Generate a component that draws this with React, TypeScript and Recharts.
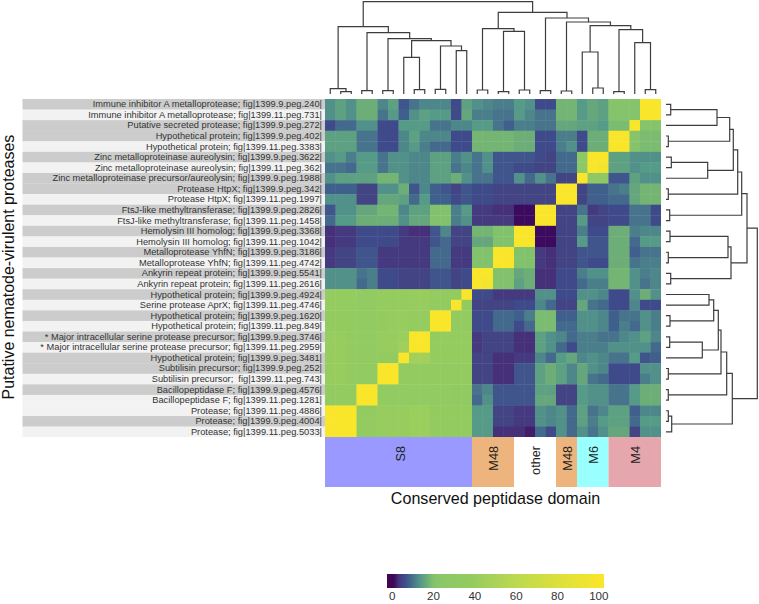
import React from 'react';
import { ScatterChart, Scatter, XAxis, YAxis, BarChart, Bar, AreaChart, Area } from 'recharts';

const proteinLabels = [
  'Immune inhibitor A metalloprotease; fig|1399.9.peg.240|',
  'Immune inhibitor A metalloprotease; fig|1399.11.peg.731|',
  'Putative secreted protease; fig|1399.9.peg.272|',
  'Hypothetical protein; fig|1399.9.peg.402|',
  'Hypothetical protein; fig|1399.11.peg.3383|',
  'Zinc metalloproteinase aureolysin; fig|1399.9.peg.3622|',
  'Zinc metalloproteinase aureolysin; fig|1399.11.peg.362|',
  'Zinc metalloproteinase precursor/aureolysin; fig|1399.9.peg.1988|',
  'Protease HtpX; fig|1399.9.peg.342|',
  'Protease HtpX; fig|1399.11.peg.1997|',
  'FtsJ-like methyltransferase; fig|1399.9.peg.2826|',
  'FtsJ-like methyltransferase; fig|1399.11.peg.1458|',
  'Hemolysin III homolog; fig|1399.9.peg.3368|',
  'Hemolysin III homolog; fig|1399.11.peg.1042|',
  'Metalloprotease YhfN; fig|1399.9.peg.3186|',
  'Metalloprotease YhfN; fig|1399.11.peg.4742|',
  'Ankyrin repeat protein; fig|1399.9.peg.5541|',
  'Ankyrin repeat protein; fig|1399.11.peg.2616|',
  'Hypothetical protein; fig|1399.9.peg.4924|',
  'Serine protease AprX; fig|1399.11.peg.4746|',
  'Hypothetical protein; fig|1399.9.peg.1620|',
  'Hypothetical protein; fig|1399.11.peg.849|',
  '* Major intracellular serine protease precursor; fig|1399.9.peg.3746|',
  '* Major intracellular serine protease precursor; fig|1399.11.peg.2959|',
  'Hypothetical protein; fig|1399.9.peg.3481|',
  'Subtilisin precursor; fig|1399.9.peg.252|',
  'Subtilisin precursor;  fig|1399.11.peg.743|',
  'Bacillopeptidase F; fig|1399.9.peg.4576|',
  'Bacillopeptidase F; fig|1399.11.peg.1281|',
  'Protease; fig|1399.11.peg.4886|',
  'Protease; fig|1399.9.peg.4004|',
  'Protease; fig|1399.11.peg.5033|',
];

const identityRows: number[][] = [
  [13,15,13,17,17,12,15,7,10,12,12,12,6,15,13,12,11,11,14,13,6,6,18,18,14,16,15,21,21,21,100,100],
  [13,15,13,17,17,10,14,8,13,15,14,14,6,16,11,11,10,10,14,12,10,10,18,18,14,16,15,21,21,21,100,100],
  [6,9,9,13,13,6,6,14,14,14,10,10,12,12,14,14,10,8,11,11,10,10,16,16,15,15,14,19,19,100,21,21],
  [15,15,15,10,10,6,6,12,15,12,12,12,6,6,18,18,18,18,17,17,6,6,11,11,6,17,17,100,100,21,19,19],
  [15,15,15,10,10,6,6,12,14,11,9,9,6,6,18,18,18,18,17,17,6,6,11,13,6,17,17,100,100,21,19,19],
  [13,14,11,14,14,10,13,13,12,12,15,15,11,13,10,13,7,7,7,7,6,5,9,9,26,100,100,15,15,13,13,13],
  [10,10,9,14,14,10,13,13,12,12,15,15,10,12,10,13,7,7,6,6,5,5,9,9,26,100,95,15,15,13,14,14],
  [13,15,15,15,15,18,18,13,12,12,15,15,17,13,10,10,7,7,13,9,13,10,5,5,100,27,27,7,7,15,13,13],
  [8,8,8,5,5,13,13,17,7,12,8,7,5,7,6,6,5,5,5,5,5,5,100,100,5,8,8,10,11,16,18,18],
  [13,13,13,5,5,16,16,15,9,14,8,8,6,7,6,6,5,5,5,5,5,5,100,100,5,8,8,9,9,16,18,18],
  [7,13,13,16,16,18,18,12,15,15,20,20,11,14,4,4,3,3,1,1,100,100,5,5,10,4,5,6,6,10,10,6],
  [9,14,14,17,17,17,17,13,16,16,20,20,11,13,4,4,4,4,1,1,100,100,5,5,14,5,5,6,6,10,10,6],
  [3,4,4,6,6,6,6,4,3,3,7,12,5,5,18,18,20,20,100,100,1,1,5,5,11,6,6,17,17,11,12,12],
  [3,4,4,6,6,6,6,4,4,4,7,9,5,5,16,16,20,20,100,100,1,1,5,5,14,7,7,17,17,9,14,14],
  [4,5,5,7,7,4,4,4,4,4,9,9,4,4,20,20,100,100,20,20,4,3,5,5,7,7,7,17,17,8,10,10],
  [4,5,5,7,7,4,4,4,4,4,9,9,4,4,20,20,100,100,20,20,4,3,5,5,7,6,6,17,17,10,11,11],
  [13,13,13,10,11,6,6,5,5,5,7,7,5,6,100,100,20,20,16,17,3,3,6,6,11,13,13,18,18,13,11,12],
  [13,13,13,9,11,6,6,5,5,5,7,7,5,6,100,95,20,20,15,17,3,3,6,6,9,11,11,18,18,13,10,12],
  [39,39,39,36,36,39,39,39,40,40,39,38,38,100,6,6,4,4,4,4,13,13,6,6,13,13,12,6,6,13,17,13],
  [39,39,39,36,36,39,39,39,40,40,38,38,100,38,5,5,5,5,6,6,12,9,5,5,16,10,9,6,6,12,6,6],
  [38,38,38,36,36,38,40,40,39,39,100,100,38,38,6,6,9,9,8,11,19,19,8,8,13,13,12,8,10,10,13,11],
  [38,38,38,36,36,38,40,40,39,39,100,100,38,38,6,6,9,9,6,9,19,19,9,9,13,13,12,8,11,9,13,11],
  [40,40,38,36,36,40,40,42,100,100,39,39,39,39,4,5,5,5,3,3,15,13,12,9,11,11,10,10,12,13,15,12],
  [40,40,38,36,36,40,40,45,100,100,39,39,39,39,4,5,5,5,3,3,15,13,9,6,11,11,11,13,13,13,13,9],
  [40,40,38,36,36,38,38,100,46,46,39,39,39,39,5,5,3,3,4,4,12,9,14,16,12,13,12,10,10,14,7,8],
  [40,40,38,36,36,100,100,38,38,38,38,38,38,38,5,5,3,3,7,7,15,17,15,12,16,13,12,6,6,6,13,13],
  [40,40,38,36,36,100,100,38,38,38,38,38,38,38,5,5,3,3,7,7,15,17,15,12,16,10,9,6,6,6,11,13],
  [37,37,37,100,100,36,36,36,36,36,36,36,35,35,10,12,7,7,7,7,15,15,5,5,14,13,13,10,10,14,17,17],
  [37,37,37,100,100,36,36,36,36,36,36,36,35,35,9,13,7,7,7,7,16,16,5,5,14,13,13,10,10,14,17,17],
  [100,100,100,37,37,40,40,40,42,42,38,38,38,38,14,14,5,5,4,4,13,12,13,9,15,10,12,15,15,8,12,12],
  [100,100,100,37,37,40,40,40,42,42,38,38,38,38,14,14,5,5,4,4,13,12,13,9,15,11,14,15,15,9,14,14],
  [100,100,100,37,37,40,40,40,42,42,38,38,38,38,14,14,3,3,3,2,9,6,13,9,13,10,13,16,16,5,13,13],
];

// Linkage lists: [childA, childB, height]; ids below 32 are leaves, 32+ are earlier merges.
const columnLinkage: [number, number, number][] = [
  [1,2,2.3],[0,32,5.3],[3,4,3.3],[5,6,3.3],[8,9,4.3],[7,36,36.7],[10,11,4.7],[12,13,43.3],
  [38,39,48],[37,40,53.3],[35,41,55.3],[34,42,61.3],[33,43,67.3],[14,15,4],[16,17,2.3],[18,19,4],
  [46,47,62.7],[45,48,65.3],[20,21,3.3],[22,23,3],[25,26,6],[24,52,42],[27,28,2.3],[30,31,4.3],
  [29,55,51.3],[54,56,64.3],[53,57,68.3],[51,58,72],[50,59,76],[49,60,81.7],[44,61,92.3],
];
const rowLinkage: [number, number, number][] = [
  [0,1,4.7],[32,2,51],[3,4,2.3],[33,34,63.7],[5,6,5.3],[36,7,41.7],[35,37,67.3],[8,9,2.3],
  [38,39,71.7],[10,11,3.7],[40,41,75.7],[12,13,4],[14,15,2.3],[43,44,62],[16,17,4.7],[45,46,65],
  [42,47,81],[18,19,43],[20,21,4],[49,50,47.7],[22,23,3.7],[52,24,36.3],[51,53,52.3],[25,26,2.3],
  [54,55,55],[27,28,2.3],[56,57,60.7],[29,30,2.3],[59,31,5.7],[58,60,66.3],[48,61,91.3],
];

const domainNames = ['S8', 'M48', 'other', 'M48 ', 'M6', 'M4'];
const domainSpans = [14, 4, 4, 2, 3, 5];
const domainColors = ['#9999ff', '#edb57d', '#ffffff', '#edb57d', '#99ffff', '#e5a7ad'];
const colorbarTicks = [0, 20, 40, 60, 80, 100];
const colorStops: [number, string][] = [
  [0,'#420455'],[1,'#3c0a5e'],[3,'#46307a'],[5,'#434483'],[6,'#3f4a8a'],[8,'#3f5f8c'],[10,'#47748c'],
  [12,'#4d878a'],[14,'#569a88'],[16,'#66a67c'],[18,'#74b574'],[20,'#83c26c'],[24,'#8cc868'],
  [38,'#93cb60'],[60,'#bcd94f'],[80,'#dbe03c'],[100,'#f9e52a'],
];

const FONT = '"Liberation Sans", Arial, sans-serif';
const HEAT_LEFT = 325, HEAT_TOP = 98.5, HEAT_W = 336, HEAT_H = 338.2;
const cellW = HEAT_W / 32, cellH = HEAT_H / 32;

function colorFor(v: number): string {
  const hex = (s: string) => [1, 3, 5].map((i) => parseInt(s.slice(i, i + 2), 16));
  for (let i = 1; i < colorStops.length; i++) {
    const [v1, c1] = colorStops[i];
    const [v0, c0] = colorStops[i - 1];
    if (v <= v1) {
      const t = (v - v0) / (v1 - v0);
      const a = hex(c0), b = hex(c1);
      return `rgb(${a.map((x, k) => Math.round(x + (b[k] - x) * t)).join(',')})`;
    }
  }
  return colorStops[colorStops.length - 1][1];
}

type Pt = { pos: number; h: number };
function linkPaths(linkage: [number, number, number][]): Pt[][] {
  const nodes = new Map<number, Pt>();
  for (let i = 0; i < 32; i++) nodes.set(i, { pos: i + 0.5, h: 0 });
  return linkage.map(([a, b, h], k) => {
    const na = nodes.get(a)!, nb = nodes.get(b)!;
    nodes.set(32 + k, { pos: (na.pos + nb.pos) / 2, h });
    return [na, { pos: na.pos, h }, { pos: nb.pos, h }, nb];
  });
}

const cells = identityRows.flatMap((row, r) => row.map((v, c) => ({ col: c + 0.5, row: r + 0.5, v })));
const rowTicks = proteinLabels.map((_, i) => i + 0.5);
const domainRow = [Object.fromEntries(domainNames.map((n, i) => [n, domainSpans[i]]))];
const colorbarData = [{ x: -2.5, y: 1 }, { x: 102.5, y: 1 }];

const box = (left: number, top: number): React.CSSProperties => ({ position: 'absolute', left, top });

function HeatCell(props: any) {
  const { cx, cy, payload } = props;
  return <rect x={cx - cellW / 2} y={cy - cellH / 2} width={cellW + 0.4} height={cellH + 0.4} fill={colorFor(payload.v)} />;
}

function RowTick(props: any) {
  const { y, payload } = props;
  const label = proteinLabels[Math.floor(payload.value)];
  const band = label.includes('1399.9.') ? '#cccccc' : '#f2f2f2';
  return (
    <g>
      <rect x={22.5} y={y - cellH / 2} width={HEAT_LEFT - 22.5} height={cellH + 0.2} fill={band} />
      <text x={HEAT_LEFT - 3} y={y} dy={3} textAnchor="end" fontFamily={FONT} fontSize={9.3} fill="#333" xmlSpace="preserve">{label}</text>
    </g>
  );
}

const noDot = () => <g />;

export default function App() {
  return (
    <div style={{ position: 'absolute', left: 0, top: 0, width: 759, height: 604, background: '#fff' }}>
      {/* top dendrogram */}
      <div style={box(HEAT_LEFT, 0)}>
        <ScatterChart width={HEAT_W} height={94} margin={{ top: 0, right: 0, bottom: 0, left: 0 }}>
          <XAxis type="number" dataKey="pos" domain={[0, 32]} hide />
          <YAxis type="number" dataKey="h" domain={[0, 94]} hide />
          {linkPaths(columnLinkage).map((d, i) => (
            <Scatter key={i} data={d} line={{ stroke: '#3d3d3d', strokeWidth: 1.2 }} lineType="joint" shape={noDot} isAnimationActive={false} />
          ))}
        </ScatterChart>
      </div>
      {/* right dendrogram */}
      <div style={box(666, HEAT_TOP)}>
        <ScatterChart width={92} height={HEAT_H} margin={{ top: 0, right: 0, bottom: 0, left: 0 }}>
          <XAxis type="number" dataKey="h" domain={[0, 92]} hide />
          <YAxis type="number" dataKey="pos" domain={[0, 32]} reversed hide />
          {linkPaths(rowLinkage).map((d, i) => (
            <Scatter key={i} data={d} line={{ stroke: '#3d3d3d', strokeWidth: 1.2 }} lineType="joint" shape={noDot} isAnimationActive={false} />
          ))}
        </ScatterChart>
      </div>
      {/* heatmap with row labels */}
      <div style={box(0, HEAT_TOP)}>
        <ScatterChart width={HEAT_LEFT + HEAT_W} height={HEAT_H} margin={{ top: 0, right: 0, bottom: 0, left: 0 }}>
          <XAxis type="number" dataKey="col" domain={[0, 32]} hide />
          <YAxis
            type="number"
            dataKey="row"
            domain={[0, 32]}
            reversed
            width={HEAT_LEFT}
            ticks={rowTicks}
            interval={0}
            tick={<RowTick />}
            tickLine={false}
            axisLine={false}
            label={{ value: 'Putative nematode-virulent proteases', angle: -90, position: 'insideLeft', offset: 0, dx: 8, dy: -1, style: { textAnchor: 'middle', fontFamily: FONT, fontSize: 16, fill: '#111' } }}
          />
          <Scatter data={cells} shape={<HeatCell />} isAnimationActive={false} />
        </ScatterChart>
      </div>
      {/* peptidase domain strip */}
      <div style={box(HEAT_LEFT, 437)}>
        <BarChart width={HEAT_W} height={76} layout="vertical" data={domainRow} barCategoryGap={0} margin={{ top: 0, right: 0, bottom: 0, left: 0 }}>
          <XAxis
            type="number"
            domain={[0, 32]}
            height={26}
            tick={false}
            tickLine={false}
            axisLine={false}
            label={{ value: 'Conserved peptidase domain', position: 'insideBottom', offset: 9, dx: 2.5, style: { fontFamily: FONT, fontSize: 16.1, fill: '#111' } }}
          />
          <YAxis type="category" hide />
          {domainNames.map((n, i) => (
            <Bar
              key={n}
              dataKey={n}
              stackId="d"
              fill={domainColors[i]}
              isAnimationActive={false}
              label={(p: any) => (
                <text
                  transform={`translate(${p.x + p.width / 2 + (i === 0 ? 2 : 1)},${p.y + 9}) rotate(-90)`}
                  textAnchor="end"
                  dominantBaseline="central"
                  fontFamily={FONT}
                  fontSize={12.7}
                  fill="#222"
                >
                  {n.trim()}
                </text>
              )}
            />
          ))}
        </BarChart>
      </div>
      {/* colour bar */}
      <div style={box(367, 574)}>
        <AreaChart width={257} height={30} data={colorbarData} margin={{ top: 0, right: 20, bottom: 0, left: 20 }}>
          <defs>
            <linearGradient id="cbar" x1="0" y1="0" x2="1" y2="0">
              {colorStops.map(([v, c]) => (
                <stop key={v} offset={`${((v + 2.5) / 105) * 100}%`} stopColor={c} />
              ))}
            </linearGradient>
          </defs>
          <XAxis
            type="number"
            dataKey="x"
            domain={[-2.5, 102.5]}
            ticks={colorbarTicks}
            interval={0}
            height={16}
            tickLine={false}
            tickSize={0}
            axisLine={false}
            tickMargin={4}
            tick={{ fontFamily: FONT, fontSize: 11.6, fill: '#333' }}
          />
          <YAxis type="number" domain={[0, 1]} hide />
          <Area dataKey="y" type="linear" stroke="none" fill="url(#cbar)" fillOpacity={1} isAnimationActive={false} dot={false} activeDot={false} />
        </AreaChart>
      </div>
    </div>
  );
}
